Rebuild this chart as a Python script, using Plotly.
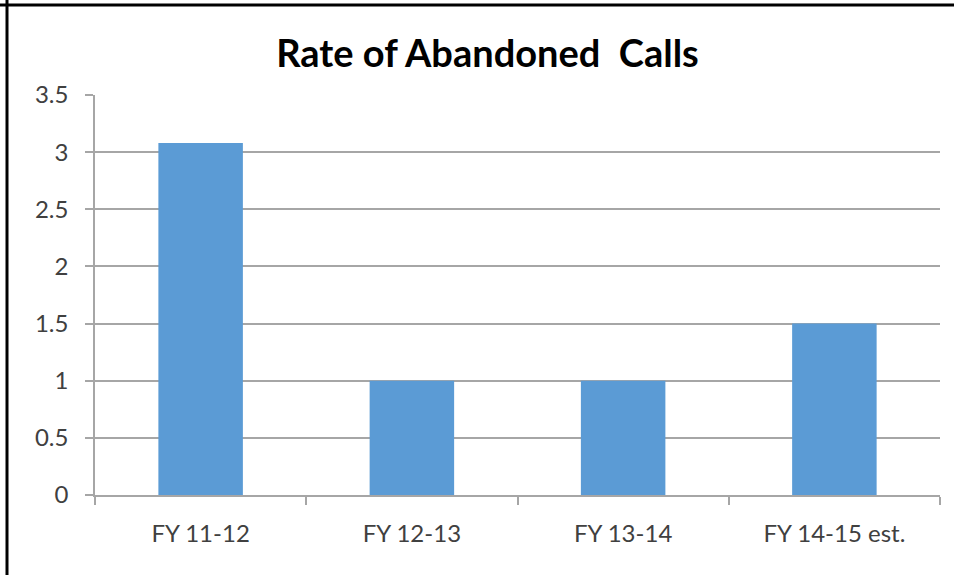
import plotly.graph_objects as go

categories = ["FY 11-12", "FY 12-13", "FY 13-14", "FY 14-15 est."]
values = [3.08, 1.0, 1.0, 1.5]
title_text = "Rate of Abandoned\u00a0 Calls"

fig = go.Figure()
fig.add_trace(go.Bar(x=categories, y=values, marker=dict(color="#5B9BD5", line=dict(width=0)),
                     width=0.4))

W, H = 954, 575
L, R, T, B = 95, 14, 95, 80
pw, ph = W - L - R, H - T - B

def px_x(x):
    return (x - L) / pw

def px_y(y):
    return 1 - (y - T) / ph

fig.update_layout(
    width=W, height=H,
    margin=dict(l=L, r=R, t=T, b=B),
    paper_bgcolor="white", plot_bgcolor="white",
    title=dict(text="<b>" + title_text + "</b>", x=0.511, xanchor="center",
               y=1 - 54 / H, yanchor="middle",
               font=dict(family="Lato", size=38, color="#000000")),
    font=dict(family="Lato", size=24, color="#404040"),
    showlegend=False,
    bargap=0.6,
    shapes=[
        dict(type="line", xref="paper", yref="paper", x0=px_x(0), x1=px_x(W), y0=px_y(5), y1=px_y(5),
             line=dict(color="black", width=3)),
        dict(type="line", xref="paper", yref="paper", x0=px_x(7), x1=px_x(7), y0=px_y(0), y1=px_y(H),
             line=dict(color="black", width=3)),
    ],
)
fig.update_xaxes(type="category", showline=True, linecolor="#A6A6A6", linewidth=1.5,
                 ticks="outside", tickson="boundaries", ticklen=8, tickcolor="#A6A6A6",
                 tickwidth=1.5, ticklabelstandoff=16, showgrid=False,
                 tickfont=dict(family="Lato", size=24, color="#404040"))
fig.update_yaxes(range=[0, 3.5], dtick=0.5, tick0=0, showline=True, linecolor="#A6A6A6",
                 linewidth=1.5, ticks="outside", ticklen=8, tickcolor="#A6A6A6", tickwidth=1.5,
                 showgrid=True, gridcolor="#A6A6A6", gridwidth=1.5, zeroline=False,
                 ticklabelstandoff=12,
                 tickfont=dict(family="Lato", size=24, color="#404040"))

fig.write_html("out.html", config={"displayModeBar": False},
               post_script="document.body.style.margin='0';document.body.style.overflow='hidden';")
